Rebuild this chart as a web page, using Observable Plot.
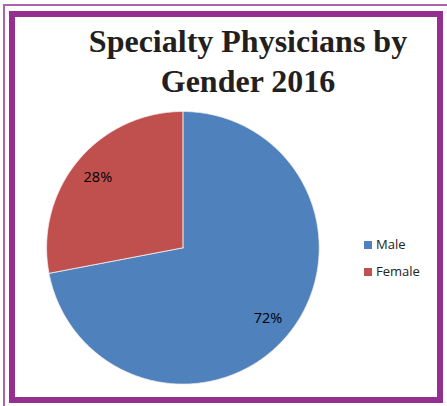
<!DOCTYPE html>
<html>
<head>
<meta charset="utf-8">
<script src="https://cdn.jsdelivr.net/npm/d3@7"></script>
<script src="https://cdn.jsdelivr.net/npm/@observablehq/plot@0.6"></script>
<style>
  html, body { margin: 0; padding: 0; background: #fff; }
  #wrap { position: relative; width: 447px; height: 406px; overflow: hidden; background: #fff; }
  #thin { position: absolute; left: 3px; top: 4px; width: 460px; height: 420px; border-top: 2px solid #B062AB; border-left: 2px solid #B062AB; box-sizing: border-box; }
  #thick { position: absolute; left: 9px; top: 11px; width: 434px; height: 392px; border: 6px solid #952F8F; box-sizing: border-box; }
  #chart { position: absolute; left: 0; top: 0; }
  #title { position: absolute; left: 48px; top: 21px; width: 400px; text-align: center; font-family: "Liberation Serif", "Times New Roman", serif; font-weight: bold; font-size: 32px; line-height: 40px; color: #231f20; }
  .leg { position: absolute; left: 376px; height: 16px; line-height: 16px; font-family: "Open Sans", sans-serif; font-size: 13px; color: #222; white-space: nowrap; }
  .sw { position: absolute; left: 364px; width: 8px; height: 8px; }
</style>
</head>
<body>
<div id="wrap">
  <div id="thin"></div>
  <div id="thick"></div>
  <div id="chart"></div>
  <div id="title">Specialty Physicians by<br>Gender 2016</div>
</div>
<script>
const categories = ["Male", "Female"];
const values = [72, 28];
const labels = ["72%", "28%"];
const colors = ["#4F81BD", "#C0504D"];
const title = "Specialty Physicians by Gender 2016";

const arcs = d3.pie().sort(null)(values);
const pts = [];
const labelPts = [];
arcs.forEach((a, i) => {
  const name = categories[i];
  pts.push({name, x: 0, y: 0});
  const n = Math.max(2, Math.ceil((a.endAngle - a.startAngle) / (Math.PI / 360)));
  for (let k = 0; k <= n; k++) {
    const t = a.startAngle + (a.endAngle - a.startAngle) * k / n;
    pts.push({name, x: Math.sin(t), y: Math.cos(t)});
  }
  pts.push({name, x: 0, y: 0});
  const m = (a.startAngle + a.endAngle) / 2;
  labelPts.push({name, label: labels[i], x: 0.81 * Math.sin(m), y: 0.81 * Math.cos(m)});
});

const cx = 182.4, cy = 247.3, r = 136.3, W = 447, H = 406;
const chart = Plot.plot({
  width: W,
  height: H,
  marginLeft: cx - r,
  marginRight: W - (cx + r),
  marginTop: cy - r,
  marginBottom: H - (cy + r),
  x: {domain: [-1, 1], axis: null},
  y: {domain: [-1, 1], axis: null},
  color: {domain: categories, range: colors},
  style: {background: "transparent", overflow: "visible"},
  marks: [
    Plot.line(pts, {x: "x", y: "y", z: "name", fill: "name", stroke: "#f4eeee", strokeWidth: 0.8, curve: "linear"}),
    Plot.text(labelPts, {x: "x", y: "y", text: "label", fill: "black", fontSize: 14.5, fontFamily: "Open Sans"})
  ]
});
document.getElementById("chart").appendChild(chart);

const wrap = document.getElementById("wrap");
categories.forEach((c, i) => {
  const sw = document.createElement("div");
  sw.className = "sw";
  sw.style.top = (241 + 27 * i) + "px";
  sw.style.background = colors[i];
  wrap.appendChild(sw);
  const t = document.createElement("div");
  t.className = "leg";
  t.style.top = (236 + 27 * i) + "px";
  t.textContent = c;
  wrap.appendChild(t);
});
</script>
</body>
</html>
